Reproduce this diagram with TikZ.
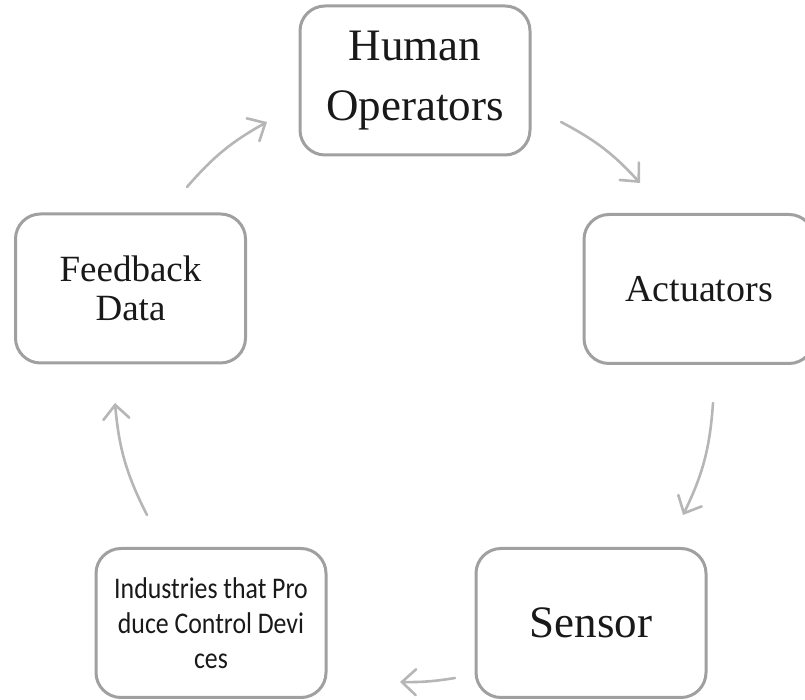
\documentclass[tikz,border=0pt]{standalone}
\usepackage{fontspec}
\setmainfont{Liberation Serif}
\newfontfamily\bodysans[FakeStretch=0.86]{Carlito}
\usetikzlibrary{arrows.meta}
\definecolor{boxline}{RGB}{160,160,160}
\definecolor{arrowline}{RGB}{182,182,182}
\definecolor{ink}{RGB}{25,25,25}
\begin{document}
\begin{tikzpicture}[x=1pt,y=1pt,
  cyclebox/.style={draw=boxline, line width=3pt, rounded corners=25pt,
    minimum width=230pt, minimum height=149pt, inner sep=0pt,
    align=center, text=ink},
  cyclearrow/.style={draw=arrowline, line width=2.6pt, line cap=round,
    -{Straight Barb[length=14pt,width=26pt,line width=2.6pt,line cap=round]}}]
\useasboundingbox (0,0) rectangle (805,700);
\clip (0,0) rectangle (805,700);

% the five stages of the cycle
\node[cyclebox, font=\fontsize{45}{60}\selectfont] (hum) at (415,619.5) {\raisebox{-3pt}{Human}\\\raisebox{-3pt}{Operators}};
\node[cyclebox, font=\fontsize{38}{44}\selectfont] (act) at (699,411) {Actuators};
\node[cyclebox, font=\fontsize{45}{54}\selectfont] (sen) at (591,77) {Sensor};
\node[cyclebox, font=\bodysans\fontsize{30}{35}\selectfont] (ind) at (211,77) {Industries that Pro\\duce Control Devi\\ces};
\node[cyclebox, font=\fontsize{37}{39}\selectfont] (fb) at (130.5,411.5) {Feedback\\Data};

% arrow end points on the circle through the stages
\coordinate (a1s) at (187,513); \coordinate (a1e) at (267,578);
\coordinate (a2s) at (561,578); \coordinate (a2e) at (640,517);
\coordinate (a3s) at (713,297); \coordinate (a3e) at (683,185);
\coordinate (a4s) at (455,22);  \coordinate (a4e) at (400,18);
\coordinate (a5s) at (147,185); \coordinate (a5e) at (115,297);

\draw[cyclearrow] (a1s) to[bend left=10] (a1e);
\draw[cyclearrow] (a2s) to[bend left=10] (a2e);
\draw[cyclearrow] (a3s) to[bend left=11] (a3e);
\draw[cyclearrow] (a4s) to[bend left=5] (a4e);
\draw[cyclearrow] (a5s) to[bend left=11] (a5e);
\end{tikzpicture}
\end{document}
